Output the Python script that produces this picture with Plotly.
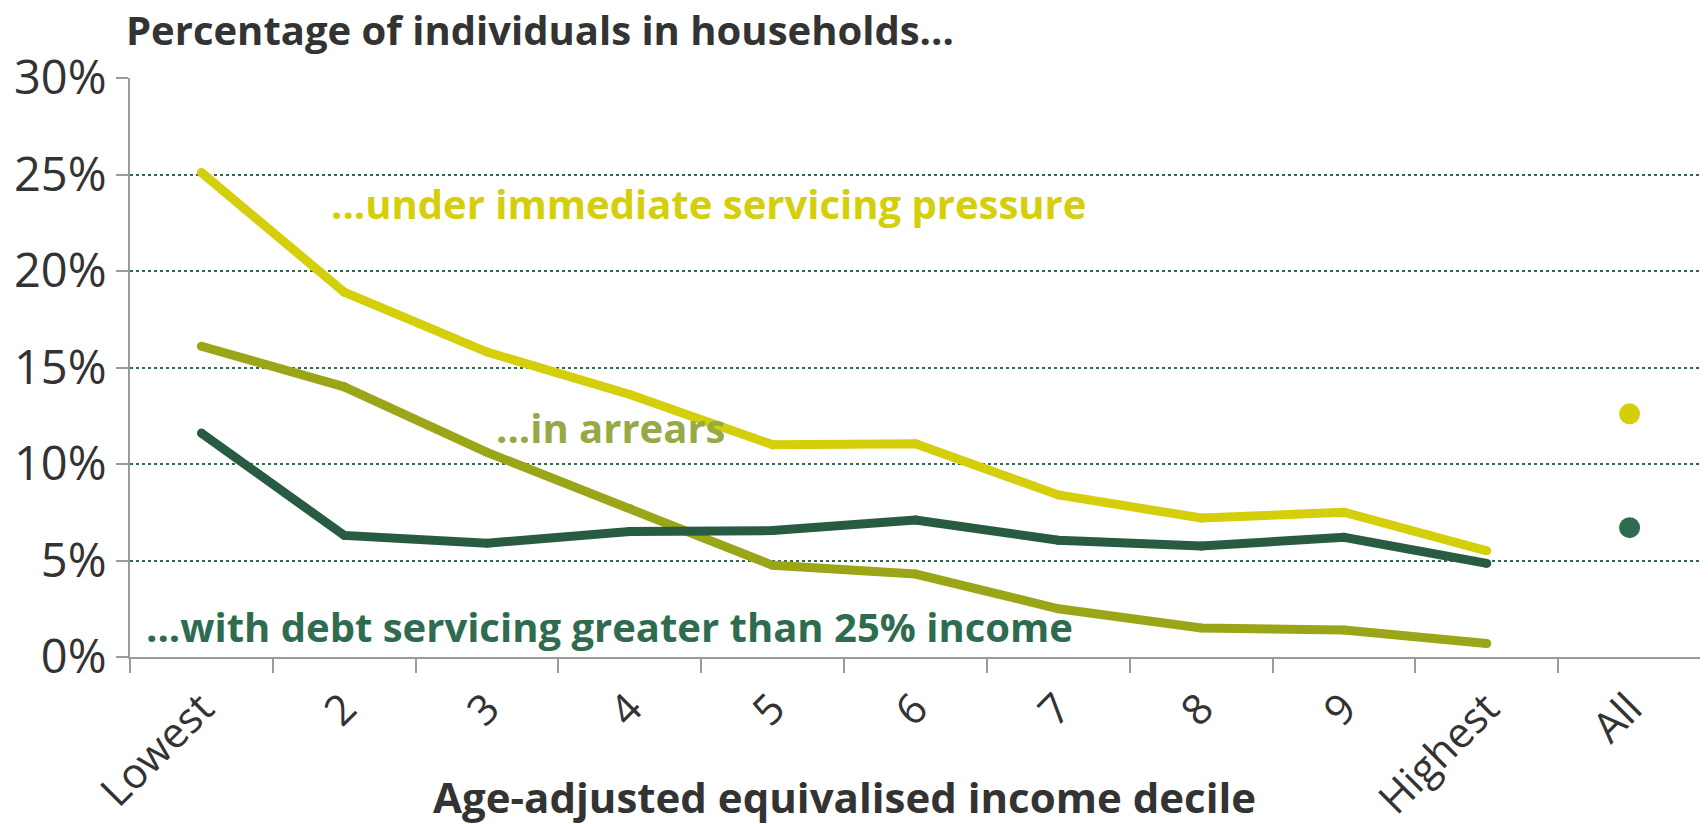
import plotly.graph_objects as go

categories = ["Lowest", "2", "3", "4", "5", "6", "7", "8", "9", "Highest", "All"]
deciles = categories[:10]

pressure = [25.1, 18.9, 15.8, 13.6, 11.0, 11.05, 8.4, 7.2, 7.5, 5.5]
pressure_all = 12.6
arrears = [16.1, 14.0, 10.6, 7.7, 4.75, 4.3, 2.5, 1.5, 1.4, 0.7]
debt25 = [11.6, 6.3, 5.9, 6.5, 6.55, 7.1, 6.05, 5.75, 6.2, 4.85]
debt25_all = 6.7

c_yellow = "#D4CF0A"
c_olive = "#9AA617"
c_olive_lbl = "#95A945"
c_dark = "#285C42"
c_dark_lbl = "#2F6B4F"
c_text = "#333333"

fig = go.Figure()

for vals, col in [(pressure, c_yellow), (arrears, c_olive), (debt25, c_dark)]:
    fig.add_trace(go.Scatter(
        x=deciles, y=vals, mode="lines+markers",
        line=dict(color=col, width=9),
        marker=dict(color=col, size=9, line=dict(width=0)),
        hoverinfo="skip", showlegend=False,
    ))

fig.add_trace(go.Scatter(x=["All"], y=[pressure_all], mode="markers",
                         marker=dict(color=c_yellow, size=21, line=dict(width=0)),
                         showlegend=False))
fig.add_trace(go.Scatter(x=["All"], y=[debt25_all], mode="markers",
                         marker=dict(color=c_dark_lbl, size=21, line=dict(width=0)),
                         showlegend=False))

lbl_font = "Open Sans"
fig.add_annotation(x=0.89, y=23.5, text="<b>...under immediate servicing pressure</b>",
                   xanchor="left", yanchor="middle", showarrow=False,
                   font=dict(family=lbl_font, size=40, color=c_yellow))
fig.add_annotation(x=2.05, y=11.9, text="<b>...in arrears</b>",
                   xanchor="left", yanchor="middle", showarrow=False,
                   font=dict(family=lbl_font, size=40, color=c_olive_lbl))
fig.add_annotation(x=-0.4, y=1.6, text="<b>...with debt servicing greater than 25% income</b>",
                   xanchor="left", yanchor="middle", showarrow=False,
                   font=dict(family=lbl_font, size=40, color=c_dark_lbl))

# figure is placed at an 8px page offset; plot area spans page x 130..1701, y 78..657
W, H = 1700, 816
L, T, R, B = 122, 70, 7, 167
ph = H - T - B

fig.add_annotation(xref="paper", yref="paper", x=-0.004, y=(H - B - 21) / ph,
                   text="<b>Percentage of individuals in households...</b>",
                   xanchor="left", yanchor="middle", showarrow=False,
                   font=dict(family="Open Sans", size=40, color=c_text))
fig.add_annotation(xref="paper", yref="paper", x=0.4545, y=(H - B - 788) / ph,
                   text="<b>Age-adjusted equivalised income decile</b>",
                   xanchor="center", yanchor="middle", showarrow=False,
                   font=dict(family="Open Sans", size=42, color=c_text))

fig.update_layout(
    width=W, height=H,
    margin=dict(l=L, r=R, t=T, b=B),
    paper_bgcolor="white", plot_bgcolor="white",
    font=dict(family="Open Sans", color=c_text),
)

fig.update_xaxes(
    type="category", categoryorder="array", categoryarray=categories,
    range=[-0.5, 10.5], automargin=False,
    tickangle=-45, tickfont=dict(size=42, color=c_text),
    ticklabelstandoff=8,
    showline=True, linecolor="#9A9A9A", linewidth=2,
    ticks="outside", tickson="boundaries", ticklen=14, tickcolor="#9A9A9A", tickwidth=2,
    showgrid=False, zeroline=False,
)
fig.update_yaxes(
    range=[0, 30], tickvals=[0, 5, 10, 15, 20, 25, 30], automargin=False,
    ticktext=["0%", "5%", "10%", "15%", "20%", "25%", "30%"],
    tickfont=dict(size=47, color=c_text),
    showline=True, linecolor="#9A9A9A", linewidth=2,
    ticks="outside", ticklen=12, tickcolor="#9A9A9A", tickwidth=2,
    showgrid=True, gridcolor="#2F6B4F", gridwidth=1.5, griddash="dot",
    zeroline=False,
)

fig.write_html("out.html")
